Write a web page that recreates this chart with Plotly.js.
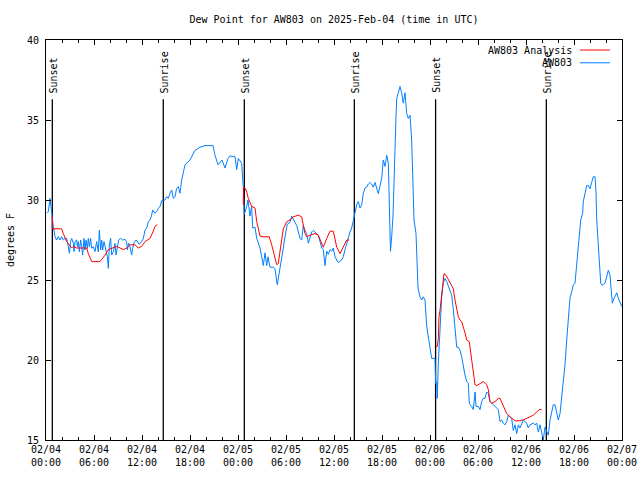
<!DOCTYPE html>
<html>
<head>
<meta charset="utf-8">
<script src="https://cdn.plot.ly/plotly-3.0.1.min.js"></script>
<style>html,body{margin:0;padding:0;background:#fff;}#chart{width:640px;height:480px;}</style>
</head>
<body>
<div id="chart"></div>
<script>
// Hours since 2025-02-04 00:00 UTC
const blueHours = [0.1,0.29,0.5,0.71,0.92,1.125,1.33,1.54,1.75,1.96,2.17,2.375,2.58,2.79,2.92,3.08,3.21,3.42,3.5,3.625,3.83,3.92,4.04,4.17,4.33,4.46,4.58,4.75,4.875,5.0,5.17,5.29,5.42,5.58,5.71,5.92,6.125,6.33,6.54,6.67,6.83,6.96,7.08,7.25,7.5,7.67,7.79,7.92,8.08,8.21,8.42,8.625,8.75,8.92,9.08,9.33,9.58,9.875,10.08,10.17,10.33,10.5,10.71,10.83,11.0,11.25,11.42,11.67,11.96,12.17,12.375,12.58,12.79,13.0,13.21,13.33,13.625,13.83,14.04,14.25,14.46,14.67,14.875,15.08,15.29,15.5,15.71,15.92,16.125,16.33,16.54,16.75,16.96,17.375,18.0,18.625,19.25,19.875,20.5,20.875,21.125,21.5,22.0,22.375,22.75,23.0,23.625,23.84,24.04,24.46,24.66,24.79,25.09,25.25,25.5,25.71,25.84,26.125,26.34,26.75,26.96,27.16,27.375,27.59,27.75,28.0,28.41,28.625,28.91,29.16,29.46,29.66,29.875,30.16,30.5,30.71,31.125,31.34,31.54,31.75,31.96,32.16,32.375,32.59,32.79,33.0,33.21,33.41,33.84,34.04,34.25,34.46,34.66,34.875,35.09,35.29,35.5,35.71,35.91,36.125,36.34,36.54,36.96,37.16,37.375,37.59,37.79,38.0,38.21,38.41,38.625,38.84,39.04,39.25,39.46,39.66,39.875,40.09,40.29,40.5,40.71,40.91,41.125,41.34,41.54,41.96,42.16,42.375,42.59,42.79,43.0,43.06,43.21,43.375,43.75,43.84,44.04,44.25,44.46,44.66,44.875,45.09,45.29,45.5,45.71,45.84,46.0,46.25,46.34,46.5,46.75,46.96,47.16,47.375,47.59,47.79,48.0,48.21,48.625,48.71,48.84,48.91,49.04,49.25,49.375,49.46,49.66,49.875,50.09,50.29,50.5,50.71,50.91,51.125,51.34,51.54,51.75,51.96,52.16,52.375,52.59,52.79,52.91,53.0,53.21,53.41,53.625,53.75,54.04,54.25,54.46,54.66,54.875,55.09,55.29,55.5,55.71,55.91,56.125,56.34,56.54,56.75,56.96,57.16,57.375,57.59,57.79,58.0,58.21,58.41,58.625,58.84,59.04,59.25,59.46,59.66,59.875,60.09,60.29,60.5,60.91,61.125,61.34,61.54,61.75,61.96,62.16,62.375,62.59,62.79,63.0,63.21,63.41,63.625,63.84,64.04,64.25,64.46,64.66,64.875,65.09,65.29,65.5,65.71,65.91,66.125,66.34,66.54,66.66,66.84,67.09,67.16,67.375,67.59,67.79,68.0,68.21,68.41,68.625,68.75,68.84,69.04,69.16,69.34,69.46,69.66,69.875,70.09,70.29,70.5,70.625,70.79,70.91,71.125,71.34,71.54,71.75,71.96];
const blueDew = [29.2,29.27,30.1,29.06,28.33,27.71,27.5,27.71,27.5,27.71,27.5,27.6,27.6,27.08,26.67,27.4,27.6,27.29,26.77,27.4,27.5,27.08,27.4,26.77,27.5,27.08,26.56,27.6,26.875,27.5,26.98,27.6,27.08,27.6,26.98,27.08,26.77,27.4,26.77,28.125,26.875,27.5,26.875,27.4,26.77,26.46,25.73,27.19,27.6,26.56,26.77,27.29,26.56,27.19,27.5,27.6,27.5,27.54,27.4,26.875,27.29,27.08,26.56,26.98,27.33,27.5,27.4,27.23,27.4,27.6,28.125,28.23,28.65,28.75,29.06,29.375,29.17,29.27,29.48,29.58,29.96,30.0,30.0,30.21,30.1,30.42,30.625,30.1,30.21,30.73,30.83,30.42,31.25,32.2,32.5,33.1,33.3,33.4,33.4,33.4,32.8,32.2,32.5,32.0,32.6,32.75,32.7,31.9,32.6,32.3,30.8,29.1,29.6,30.0,29.0,29.6,28.25,28.3,27.6,27.0,26.45,25.9,26.7,25.9,26.45,25.8,25.8,25.7,24.7,25.4,26.45,27.0,27.7,28.5,28.6,29.0,28.6,28.4,28.0,27.6,27.5,28.4,28.1,27.9,27.3,27.6,28.0,28.1,27.9,27.8,27.4,27.0,26.9,25.9,26.8,26.6,26.9,26.8,27.0,26.45,26.25,26.1,26.25,26.45,26.9,27.3,27.7,28.0,28.25,28.75,29.3,29.7,29.9,29.5,29.7,30.4,30.75,30.8,31.0,31.1,31.0,30.8,31.1,30.75,30.4,31.35,32.5,32.1,32.8,32.3,27.9,26.8,27.7,29.0,35.2,36.35,36.7,37.1,36.7,36.05,36.7,35.4,35.1,35.3,33.75,30.8,28.75,27.9,26.7,24.5,23.95,23.75,23.95,23.75,22.1,21.5,20.6,20.1,20.1,18.5,18.6,17.6,19.8,22.3,23.3,23.95,24.8,25.1,24.9,24.6,24.4,24.05,23.2,22.2,20.8,20.8,20.6,20.2,19.6,19.05,18.65,18.55,17.3,17.2,17.1,16.9,18.0,17.1,17.1,16.9,17.4,17.6,17.6,18.0,17.9,17.4,17.3,17.2,17.1,17.0,16.9,16.15,16.25,16.05,15.95,16.15,16.55,16.45,16.35,15.6,15.95,15.4,15.95,15.75,16.05,16.25,16.15,16.05,15.75,15.95,16.05,15.95,16.05,15.5,15.95,15.4,15.0,15.8,15.5,15.3,16.25,16.65,17.2,17.2,16.65,16.25,16.65,17.7,18.55,19.7,21.25,22.9,23.9,24.25,24.7,24.8,26.05,27.1,28.1,28.75,29.2,29.9,30.4,30.9,30.9,30.7,31.1,31.45,31.45,30.5,28.75,27.1,25.7,24.8,24.7,24.7,24.8,25.3,25.6,25.3,24.4,23.55,23.75,23.95,24.2,23.85,23.55,23.35];

const redHours = [0.79,0.8,0.91,1.96,2.16,2.59,3.21,3.41,3.84,5.09,5.29,5.71,6.75,7.375,7.79,8.84,9.66,10.09,10.5,11.125,11.54,11.96,12.375,13.0,13.41,13.625,13.91,null,
  24.66,24.7,24.875,25.09,25.29,25.5,25.71,26.125,26.34,26.75,27.16,27.91,28.21,28.84,29.04,29.66,30.09,30.5,30.91,31.54,31.96,32.375,32.59,33.0,33.625,34.04,34.46,34.66,35.09,35.5,35.91,36.34,36.75,37.16,37.59,37.91,null,
  48.71,48.91,49.04,49.125,49.25,49.46,49.59,49.75,50.0,50.29,50.71,50.91,51.125,51.54,51.75,51.96,52.375,52.59,52.91,53.21,53.41,53.625,53.84,54.25,54.66,55.09,55.29,55.5,55.71,56.125,56.54,56.75,57.16,57.59,58.0,58.625,59.25,59.875,60.5,60.91,61.34,61.66,61.96];
const redDew = [29.0,28.2,28.2,28.2,27.9,27.4,27.0,27.1,27.0,27.0,26.65,26.15,26.15,26.55,26.9,27.1,26.9,27.0,27.2,27.2,27.0,27.1,27.4,27.6,28.05,28.35,28.45,null,
  29.7,30.8,30.75,30.5,30.1,29.9,29.6,29.5,28.65,27.75,27.7,27.7,27.2,25.95,26.05,28.2,28.65,28.75,28.95,29.05,28.95,27.9,27.7,27.8,27.9,27.8,27.2,27.05,27.6,28.05,28.05,27.05,26.65,27.05,27.5,27.5,null,
  20.85,20.85,21.35,22.7,23.1,24.15,24.9,25.4,25.3,25.0,24.6,24.45,23.75,22.7,22.5,22.4,21.7,21.25,21.15,20.0,19.3,18.45,18.4,18.55,18.65,18.45,18.15,17.4,17.3,17.4,17.6,17.6,17.1,16.65,16.45,16.2,16.2,16.3,16.45,16.55,16.75,16.9,16.9];

const sunHours = [0.79, 14.66, 24.79, 38.54, 48.7, 62.54];
const sunLabels = ['Sunset','Sunrise','Sunset','Sunrise','Sunset','Sunrise'];

const tickHours = [0,6,12,18,24,30,36,42,48,54,60,66,72];
const tickDates = ['02/04','02/04','02/04','02/04','02/05','02/05','02/05','02/05','02/06','02/06','02/06','02/06','02/07'];
const tickTimes = ['00:00','06:00','12:00','18:00','00:00','06:00','12:00','18:00','00:00','06:00','12:00','18:00','00:00'];

const seriesNames = ['AW803 Analysis','AW803'];
const seriesColors = ['#ff0000','#0080ff'];

const FONT = 'DejaVu Sans Mono, Liberation Mono, monospace';
const SUN_TOP = 36.3;

const traces = [];
sunHours.forEach(h => {
  traces.push({x:[h,h], y:[15, SUN_TOP], mode:'lines', line:{color:'#000', width:1.3}, hoverinfo:'skip', showlegend:false});
});
traces.push({x: blueHours, y: blueDew, mode:'lines', name: seriesNames[1], line:{color: seriesColors[1], width:1}, showlegend:false});
traces.push({x: redHours, y: redDew, mode:'lines', name: seriesNames[0], line:{color: seriesColors[0], width:1}, connectgaps:false, showlegend:false});

const annotations = sunHours.map((h,i) => ({
  x: h, y: SUN_TOP, xref:'x', yref:'y', text: sunLabels[i], showarrow:false,
  textangle: -90, xanchor:'center', yanchor:'bottom', yshift: 4, xshift: 1,
  font:{family:FONT, size:10, color:'#000'}
}));
// manual legend (text on the left, sample line on the right)
const legendY = [0.975, 0.943];
seriesNames.forEach((n,i) => {
  annotations.push({x:0.917, y:legendY[i], xref:'paper', yref:'paper', text:n, showarrow:false,
    xanchor:'right', yanchor:'middle', font:{family:FONT, size:10, color:'#000'}});
});
const shapes = seriesNames.map((n,i) => ({type:'line', xref:'paper', yref:'paper',
  x0:0.927, x1:0.979, y0:legendY[i], y1:legendY[i], line:{color:seriesColors[i], width:1}}));

const layout = {
  width:640, height:480,
  margin:{l:46, r:18, t:40, b:40},
  paper_bgcolor:'#fff', plot_bgcolor:'#fff',
  font:{family:FONT, size:10, color:'#000'},
  title:{text:'Dew Point for AW803 on 2025-Feb-04 (time in UTC)', x:0.5, xref:'paper', y:1-19/480, yref:'container', yanchor:'middle', font:{family:FONT, size:10, color:'#000'}},
  xaxis:{range:[0,72], showgrid:false, zeroline:false, showline:true, linecolor:'#000', linewidth:1, mirror:'allticks',
    ticks:'inside', ticklen:5, tickcolor:'#000', tickwidth:1,
    tickvals: tickHours, ticktext: tickHours.map((h,i)=>tickDates[i]+'<br>'+tickTimes[i]),
    minor:{dtick:2, tick0:0, ticks:'inside', ticklen:3, tickcolor:'#000', showgrid:false},
    tickfont:{family:FONT, size:10, color:'#000'}, fixedrange:true},
  yaxis:{range:[15,40], dtick:5, tick0:15, showgrid:false, zeroline:false, showline:true, linecolor:'#000', linewidth:1, mirror:'allticks',
    ticks:'inside', ticklen:5, tickcolor:'#000', tickwidth:1, ticklabelstandoff:4,
    tickfont:{family:FONT, size:10, color:'#000'},
    title:{text:'degrees F', standoff:10, font:{family:FONT, size:10, color:'#000'}}, fixedrange:true},
  showlegend:false,
  annotations: annotations,
  shapes: shapes
};
Plotly.newPlot('chart', traces, layout, {displayModeBar:false, staticPlot:true});
</script>
</body>
</html>
